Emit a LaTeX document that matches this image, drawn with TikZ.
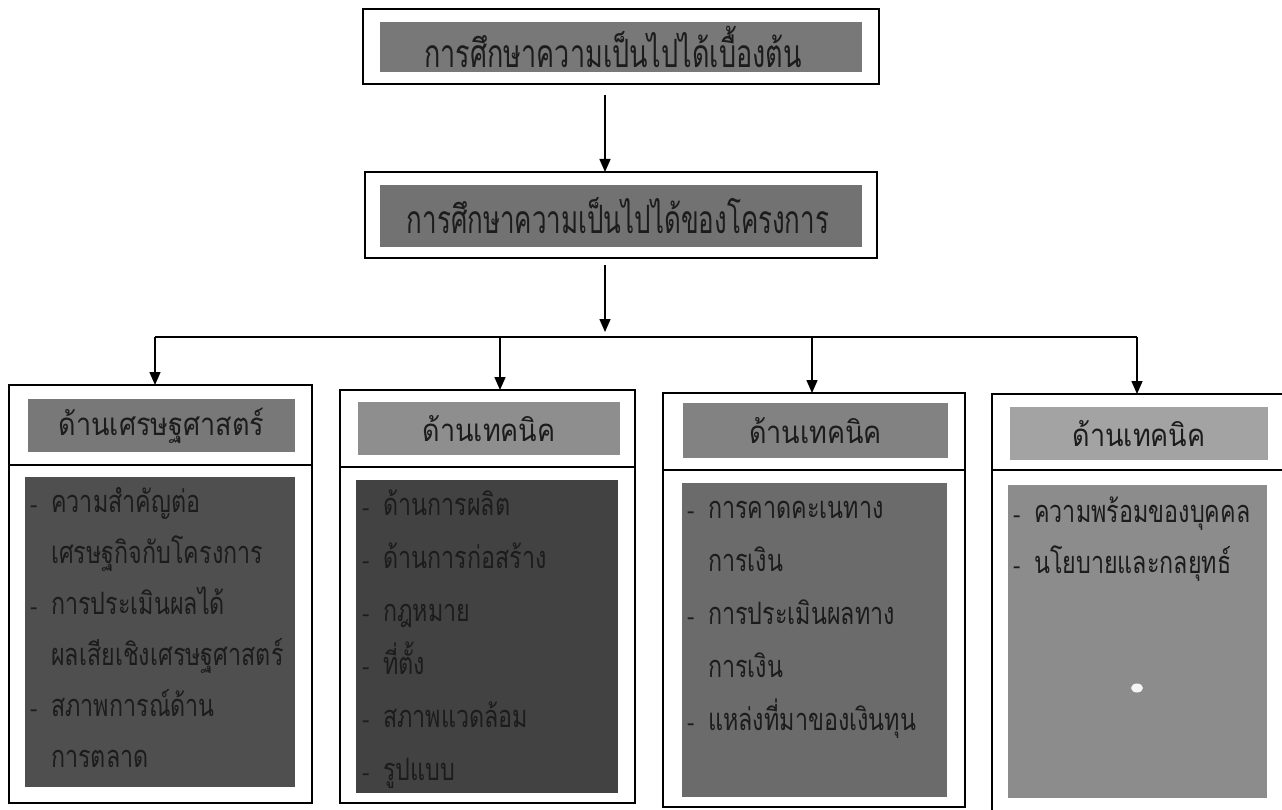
\documentclass[tikz,border=0pt]{standalone}
\usepackage{fontspec}
\newfontfamily\thai[Script=Thai]{Loma}
\usetikzlibrary{arrows.meta}
\definecolor{topgray}{HTML}{787878}
\definecolor{midgray}{HTML}{727272}
\definecolor{hA}{HTML}{787878}
\definecolor{hB}{HTML}{8E8E8E}
\definecolor{hC}{HTML}{828282}
\definecolor{hD}{HTML}{A3A3A3}
\definecolor{bA}{HTML}{4F4F4F}
\definecolor{bB}{HTML}{424242}
\definecolor{bC}{HTML}{6B6B6B}
\definecolor{bD}{HTML}{8C8C8C}
\definecolor{ink}{HTML}{1C1C1C}
\newcommand{\bodyline}[1]{\scalebox{1.06}[1.4]{#1}}
\newcommand{\headline}[1]{\scalebox{1.04}[1.2]{#1}}
\begin{document}
\begin{tikzpicture}[x=1pt,y=-1pt,
  frame/.style={draw=black,line width=1.6pt,fill=white,anchor=north west,inner sep=0pt,outer sep=0pt},
  sep/.style={draw=black,line width=2.4pt},
  shade/.style={draw=none,anchor=north west,inner sep=0pt,outer sep=0pt},
  bigtext/.style={text=ink,font=\thai\fontsize{30}{30}\selectfont,inner sep=0pt},
  headtext/.style={text=ink,font=\thai\fontsize{26}{26}\selectfont,inner sep=0pt},
  linetext/.style={text=ink,font=\thai\fontsize{22}{22}\selectfont,inner sep=0pt,anchor=base west},
  arr/.style={line width=1.5pt,-{Triangle[length=13pt,width=11pt]}},
  link/.style={line width=1.5pt}
]
\useasboundingbox (0,0) rectangle (1282,810);
\fill[white] (0,0) rectangle (1282,810);
% top box
\node[frame,minimum width=516pt,minimum height=75pt] (top) at (363,9) {};
\node[shade,fill=topgray,minimum width=482pt,minimum height=50pt] (topin) at (380,22) {};
\node[bigtext] (toptext) at ([xshift=-8pt]topin.center) {\scalebox{0.9}[1.3]{การศึกษาความเป็นไปได้เบื้องต้น}};
% second box
\node[frame,minimum width=512pt,minimum height=86pt] (mid) at (365,172) {};
\node[shade,fill=midgray,minimum width=482pt,minimum height=62pt] (midin) at (380,185) {};
\node[bigtext] (midtext) at ([xshift=-3pt]midin.center) {\scalebox{0.865}[1.3]{การศึกษาความเป็นไปได้ของโครงการ}};
% col A
\node[frame,minimum width=303pt,minimum height=418pt] (colA) at (9,385) {};
\draw[sep] (colA.west |- 0,465) -- (colA.east |- 0,465);
\node[shade,fill=hA,minimum width=267pt,minimum height=53pt] (hdA) at (28,399) {};
\node[headtext] (hdAt) at (hdA.center) {\headline{ด้านเศรษฐศาสตร์}};
\node[shade,fill=bA,minimum width=270pt,minimum height=310pt] (bdA) at (25,477) {};
% col B
\node[frame,minimum width=295pt,minimum height=413pt] (colB) at (340,390) {};
\draw[sep] (colB.west |- 0,467) -- (colB.east |- 0,467);
\node[shade,fill=hB,minimum width=262pt,minimum height=53pt] (hdB) at (358,402) {};
\node[headtext] (hdBt) at (hdB.center) {\headline{ด้านเทคนิค}};
\node[shade,fill=bB,minimum width=262pt,minimum height=313pt] (bdB) at (356,480) {};
% col C
\node[frame,minimum width=302pt,minimum height=414pt] (colC) at (663,393) {};
\draw[sep] (colC.west |- 0,470) -- (colC.east |- 0,470);
\node[shade,fill=hC,minimum width=265pt,minimum height=55pt] (hdC) at (683,403) {};
\node[headtext] (hdCt) at (hdC.center) {\headline{ด้านเทคนิค}};
\node[shade,fill=bC,minimum width=265pt,minimum height=314pt] (bdC) at (682,483) {};
% col D
\node[frame,minimum width=300pt,minimum height=420pt] (colD) at (992,394) {};
\draw[sep] (colD.west |- 0,470) -- (colD.east |- 0,470);
\node[shade,fill=hD,minimum width=258pt,minimum height=53pt] (hdD) at (1010,407) {};
\node[headtext] (hdDt) at (hdD.center) {\headline{ด้านเทคนิค}};
\node[shade,fill=bD,minimum width=259pt,minimum height=313pt] (bdD) at (1008,485) {};
\fill[white!92!gray] (1137,688) ellipse (6pt and 4.5pt);
% body lines
\newcommand{\dl}{\makebox[21pt][l]{-}}
\newcommand{\cl}{\hspace*{21pt}}
\node[linetext] (a1) at (30,512) {\dl\bodyline{ความสำคัญต่อ}};
\node[linetext] (a2) at (30,563) {\cl\bodyline{เศรษฐกิจกับโครงการ}};
\node[linetext] (a3) at (30,614) {\dl\bodyline{การประเมินผลได้}};
\node[linetext] (a4) at (30,665) {\cl\bodyline{ผลเสียเชิงเศรษฐศาสตร์}};
\node[linetext] (a5) at (30,716) {\dl\bodyline{สภาพการณ์ด้าน}};
\node[linetext] (a6) at (30,767) {\cl\bodyline{การตลาด}};
\node[linetext] (b1) at (362,515) {\dl\bodyline{ด้านการผลิต}};
\node[linetext] (b2) at (362,568) {\dl\bodyline{ด้านการก่อสร้าง}};
\node[linetext] (b3) at (362,621) {\dl\bodyline{กฎหมาย}};
\node[linetext] (b4) at (362,674) {\dl\bodyline{ที่ตั้ง}};
\node[linetext] (b5) at (362,727) {\dl\bodyline{สภาพแวดล้อม}};
\node[linetext] (b6) at (362,780) {\dl\bodyline{รูปแบบ}};
\node[linetext] (c1) at (687,518) {\dl\bodyline{การคาดคะเนทาง}};
\node[linetext] (c2) at (687,571) {\cl\bodyline{การเงิน}};
\node[linetext] (c3) at (687,624) {\dl\bodyline{การประเมินผลทาง}};
\node[linetext] (c4) at (687,677) {\cl\bodyline{การเงิน}};
\node[linetext] (c5) at (687,730) {\dl\bodyline{แหล่งที่มาของเงินทุน}};
\node[linetext] (d1) at (1013,522) {\dl\bodyline{ความพร้อมของบุคคล}};
\node[linetext] (d2) at (1013,573) {\dl\bodyline{นโยบายและกลยุทธ์}};
% connectors
\coordinate (ax) at (605,0);
\coordinate (hub) at (605,337);
\draw[arr] ([yshift=-11pt]top.south -| ax) -- (mid.north -| ax);
\draw[arr] ([yshift=-7pt]mid.south -| ax) -- ([yshift=5pt]hub);
\coordinate (hl) at (155,337);
\coordinate (hb) at (500,337);
\coordinate (hc) at (812,337);
\coordinate (hr) at (1137,337);
\draw[link] (hl) -- (hr);
\draw[arr] (hl) -- (colA.north -| hl);
\draw[arr] (hb) -- (colB.north -| hb);
\draw[arr] (hc) -- (colC.north -| hc);
\draw[arr] (hr) -- (colD.north -| hr);
\end{tikzpicture}
\end{document}
